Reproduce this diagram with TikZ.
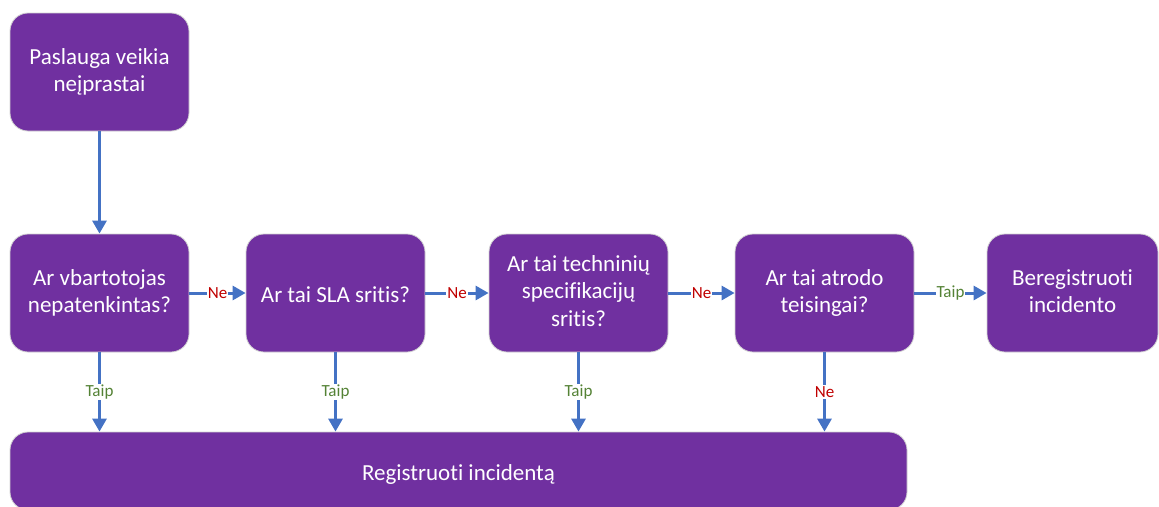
\documentclass[tikz,border=0pt]{standalone}
\usepackage{fontspec}
\setmainfont{Carlito}[Ligatures=NoCommon]
\usetikzlibrary{arrows.meta}
\definecolor{boxpurple}{HTML}{7030A0}
\definecolor{flowblue}{HTML}{4472C4}
\definecolor{yesgreen}{HTML}{548235}
\definecolor{nored}{HTML}{C00000}
% equal line metrics so that every box centres its text block the same way
\newcommand{\toprule}{\rule{0pt}{22.5pt}}
\newcommand{\botrule}{\rule[-4pt]{0pt}{4pt}}
\tikzset{
  x=1pt, y=-1pt,
  stepbox/.style={rectangle, rounded corners=18pt, fill=boxpurple, draw=gray!35, line width=0.8pt,
    text=white, align=center, font=\fontsize{23}{27.5}\selectfont,
    minimum width=179pt, minimum height=118pt, inner sep=2pt,
    execute at begin node=\toprule, execute at end node=\botrule},
  flow/.style={draw=flowblue, line width=3pt, -{Triangle[length=13pt,width=14pt]}},
  lbl/.style={fill=white, inner sep=1pt, font=\fontsize{17}{19}\selectfont},
  yes/.style={lbl, text=yesgreen},
  no/.style={lbl, text=nored}
}
\begin{document}
\begin{tikzpicture}
\useasboundingbox (0,0) rectangle (1159,506);

% process boxes
\node[stepbox] (start) at (99.5,72) {Paslauga veikia\\neįprastai};
\node[stepbox] (q1) at (99.5,293) {Ar vbartotojas\\nepatenkintas?};
\node[stepbox] (q2) at (335.5,293) {Ar tai SLA sritis?};
\node[stepbox] (q3) at (578.5,293) {Ar tai techninių\\specifikacijų\\sritis?};
\node[stepbox] (q4) at (824.5,293) {Ar tai atrodo\\teisingai?};
\node[stepbox, minimum width=171pt] (noreg) at (1072.5,293) {Beregistruoti\\incidento};
\node[stepbox, minimum width=897pt, minimum height=78pt] (reg) at (458.5,471) {Registruoti incidentą};

% connectors
\draw[flow] (start.south) -- (q1.north);
\draw[flow] (q1.east) -- node[no] {Ne} (q2.west);
\draw[flow] (q2.east) -- node[no] {Ne} (q3.west);
\draw[flow] (q3.east) -- node[no] {Ne} (q4.west);
\draw[flow] (q4.east) -- node[yes] {Taip} (noreg.west);

\draw[flow] (q1.south) -- node[yes] {Taip} (q1.south |- reg.north);
\draw[flow] (q2.south) -- node[yes] {Taip} (q2.south |- reg.north);
\draw[flow] (q3.south) -- node[yes] {Taip} (q3.south |- reg.north);
\draw[flow] (q4.south) -- node[no] {Ne} (q4.south |- reg.north);
\end{tikzpicture}
\end{document}
